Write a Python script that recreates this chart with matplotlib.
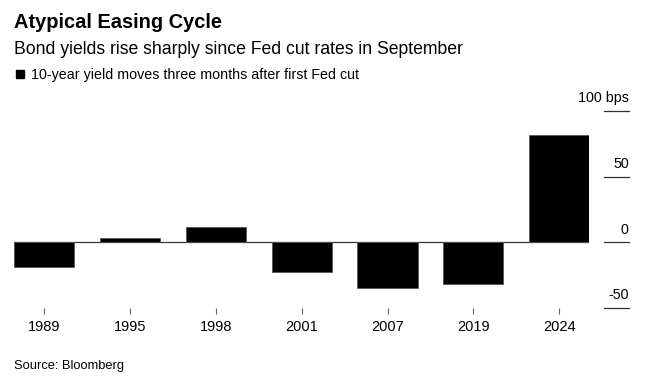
import matplotlib.pyplot as plt
import matplotlib.patches as mpatches
import numpy as np

plt.rcParams['font.family'] = ['Liberation Sans', 'DejaVu Sans']

# data
years = ['1989', '1995', '1998', '2001', '2007', '2019', '2024']
moves = [-18.7, 3.3, 11.5, -22.5, -35.2, -32.1, 81.6]   # bps
ytick_vals = [100, 50, 0, -50]
ytick_labels = ['100 bps', '50', '0', '-50']

W, H = 665, 383
fig = plt.figure(figsize=(W / 100, H / 100), dpi=100)

# axes placed in pixel terms
left, right = 14, 589.3
top, bottom = 111, 307.7
ax = fig.add_axes([left / W, 1 - bottom / H, (right - left) / W, (bottom - top) / H])

x = np.arange(len(years))
ax.bar(x, moves, width=0.7, color='black', edgecolor='#555555', linewidth=0.6, zorder=3)
ax.axhline(0, color='#333333', lw=0.9, zorder=2)

ax.set_xlim(-0.35, len(years) - 0.65)
ax.set_ylim(-50, 100)

for s in ax.spines.values():
    s.set_visible(False)
ax.set_yticks([])
ax.set_xticks(x)
ax.set_xticklabels(years, fontsize=10.5)
ax.tick_params(axis='x', length=4.3, width=0.8, color='#666666', pad=4.5)

# right-hand gridline stubs with labels sitting on top
ytr = ax.get_yaxis_transform()
x0 = (604 - left) / (right - left)
x1 = (628.7 - left) / (right - left)
for v, lab in zip(ytick_vals, ytick_labels):
    ax.plot([x0, x1], [v, v], transform=ytr, color='#333333', lw=0.9, clip_on=False)
    ax.annotate(lab, xy=(x1, v), xycoords=ytr, xytext=(0, 4), textcoords='offset points',
                ha='right', va='bottom', fontsize=10.3)

# titles
fig.text(14 / W, 1 - 28 / H, 'Atypical Easing Cycle', fontsize=14.4, fontweight='bold',
         va='baseline', ha='left')
fig.text(14 / W, 1 - 54.3 / H, 'Bond yields rise sharply since Fed cut rates in September',
         fontsize=12.7, va='baseline', ha='left')

# legend
fig.patches.append(mpatches.Rectangle((16 / W, 1 - 78 / H), 8 / W, 8 / H, color='black',
                                      transform=fig.transFigure))
fig.text(30.7 / W, 1 - 78.5 / H, '10-year yield moves three months after first Fed cut',
         fontsize=10.3, va='baseline', ha='left')

fig.text(14 / W, 1 - 369 / H, 'Source: Bloomberg', fontsize=9.3, va='baseline', ha='left')

fig.savefig('out.png', dpi=100)
